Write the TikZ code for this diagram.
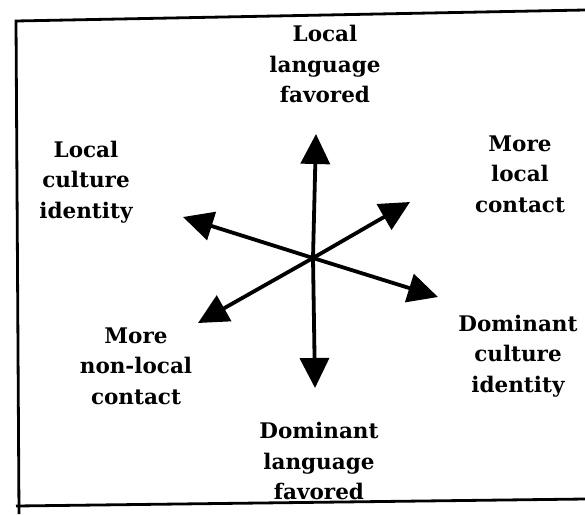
\documentclass[tikz,border=0pt]{standalone}
\usepackage{fontspec}
\setmainfont{DejaVu Serif}
\usetikzlibrary{arrows.meta}
\begin{document}
\begin{tikzpicture}[x=1pt,y=-1pt]
\tikzstyle{every node}=[align=center,inner sep=0pt,font=\bfseries\fontsize{21.5}{30.5}\selectfont]
\tikzstyle{axis}=[line width=3.8pt,-{Triangle[length=30pt,width=29pt]}]
\tikzstyle{frame}=[line width=2.8pt]
\useasboundingbox (0,0) rectangle (585,514);

% frame
\draw[frame] (585,10) -- (16,21) -- (19,514);
\draw[frame] (16,506) -- (585,499);

% centre and arrow ends
\coordinate (c) at (313,258);
\coordinate (up) at (316,134);
\coordinate (down) at (315,388);
\coordinate (ul) at (183,217);
\coordinate (lr) at (438,297);
\coordinate (ur) at (410,202);
\coordinate (ll) at (198,323);

\draw[axis] (c) -- (up);
\draw[axis] (c) -- (down);
\draw[axis] (c) -- (ul);
\draw[axis] (c) -- (lr);
\draw[axis] (c) -- (ur);
\draw[axis] (c) -- (ll);

% labels
\node (loclang) at (325,64) {Local\\language\\favored};
\node (locid) at (86,182) {Local\\culture\\identity};
\node (loccon) at (520,174) {More\\local\\contact};
\node (domid) at (518,356) {Dominant\\culture\\identity};
\node (nonloc) at (136,366) {More\\non-local\\contact};
\node (domlang) at (319,461) {Dominant\\language\\favored};
\end{tikzpicture}
\end{document}
